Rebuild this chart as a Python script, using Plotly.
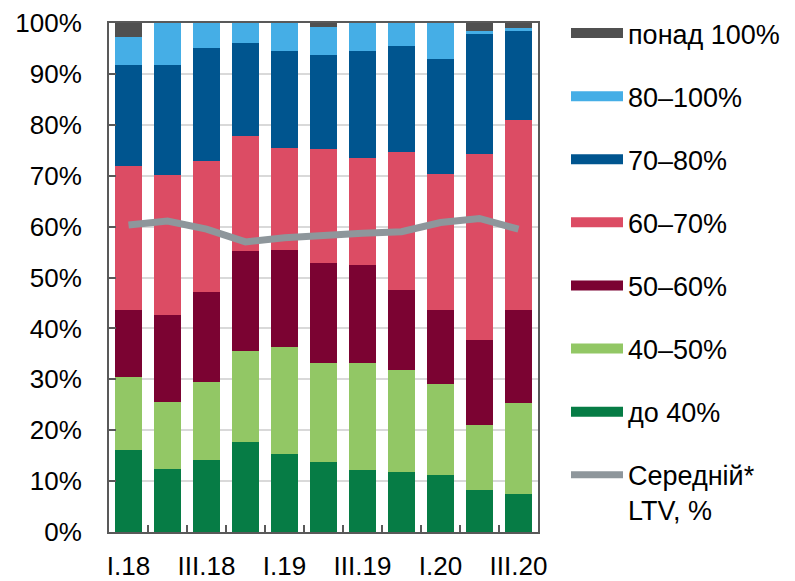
import plotly.graph_objects as go

quarters = ["I.18", "II.18", "III.18", "IV.18", "I.19", "II.19", "III.19", "IV.19", "I.20", "II.20", "III.20"]
tick_text = ["I.18", "", "III.18", "", "I.19", "", "III.19", "", "I.20", "", "III.20"]

upto40 = [16.2, 12.3, 14.1, 17.6, 15.3, 13.7, 12.1, 11.8, 11.2, 8.3, 7.5]
s40_50 = [14.2, 13.3, 15.4, 17.9, 21.0, 19.5, 21.2, 20.1, 17.8, 12.8, 17.8]
s50_60 = [13.3, 17.0, 17.7, 19.7, 19.1, 19.7, 19.2, 15.6, 14.7, 16.6, 18.4]
s60_70 = [28.2, 27.6, 25.6, 22.6, 20.0, 22.3, 21.0, 27.1, 26.7, 36.5, 37.2]
s70_80 = [19.9, 21.6, 22.2, 18.2, 19.1, 18.6, 21.0, 20.9, 22.5, 23.6, 17.6]
s80_100 = [5.5, 8.2, 5.0, 4.0, 5.5, 5.5, 5.5, 4.5, 7.1, 0.6, 0.5]
over100 = [2.7, 0, 0, 0, 0, 0.7, 0, 0, 0, 1.6, 1.0]
avg_ltv = [60.3, 61.1, 59.5, 57.0, 57.8, 58.4, 58.7, 59.0, 60.8, 61.6, 59.5]

series = [
    ("до 40%", upto40, "#067c45"),
    ("40–50%", s40_50, "#92c765"),
    ("50–60%", s50_60, "#7b0332"),
    ("60–70%", s60_70, "#dc4c64"),
    ("70–80%", s70_80, "#00558f"),
    ("80–100%", s80_100, "#45aee6"),
    ("понад 100%", over100, "#505050"),
]
line_name = "Середній*<br>LTV, %"
line_color = "#8e969b"

FONT = "Liberation Sans, Arial, sans-serif"

# page body has an 8px margin; figure is sized/offset to compensate
W, H = 787, 573

fig = go.Figure()
n = len(series)
for i, (name, vals, col) in enumerate(series):
    fig.add_trace(go.Bar(x=quarters, y=vals, name=name, marker=dict(color=col, line=dict(width=0)),
                         showlegend=False))
    # legend proxy
    fig.add_trace(go.Scatter(x=[None], y=[None], mode="lines", name=name,
                             line=dict(color=col, width=13),
                             legendgroup=name, legendrank=n - i, showlegend=True))

fig.add_trace(go.Scatter(x=quarters, y=avg_ltv, mode="lines", name=line_name,
                         line=dict(color=line_color, width=7),
                         legendgroup="ltv", legendrank=n + 1))

fig.update_layout(
    width=W, height=H,
    barmode="stack", bargap=0.33,
    plot_bgcolor="white", paper_bgcolor="white",
    margin=dict(l=101, r=257, t=15, b=49, autoexpand=False),
    font=dict(family=FONT, size=26, color="black"),
    legend=dict(
        xref="container", yref="container",
        x=558 / W, y=1 - 1 / H, xanchor="left", yanchor="top",
        traceorder="grouped", tracegroupgap=25, itemwidth=52,
        valign="top", font=dict(family=FONT, size=27, color="black"),
        bgcolor="rgba(0,0,0,0)", maxheight=1,
    ),
)
fig.update_xaxes(
    type="category", tickmode="array", tickvals=quarters, ticktext=tick_text,
    tickson="boundaries", ticks="inside", ticklen=7, tickwidth=2, tickcolor="#595959",
    showline=True, linecolor="#595959", linewidth=2, mirror=True,
    showgrid=False, tickangle=0, automargin=False, ticklabelstandoff=10,
    ticklabeloverflow="allow",
)
fig.update_yaxes(
    range=[0, 100], dtick=10, ticksuffix="%",
    ticks="inside", ticklen=7, tickwidth=2, tickcolor="#595959",
    showline=True, linecolor="#595959", linewidth=2, mirror=True,
    showgrid=True, gridcolor="#d9d9d9", gridwidth=1.5,
    ticklabelstandoff=20, zeroline=False, automargin=False,
    ticklabeloverflow="allow",
)

fig.write_html("out.html")
